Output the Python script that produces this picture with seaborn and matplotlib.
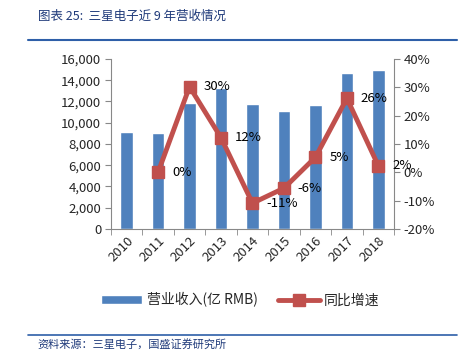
import numpy as np
import pandas as pd
import seaborn as sns
import matplotlib.pyplot as plt
from matplotlib.ticker import FuncFormatter, FixedLocator

# data
years = ['2010', '2011', '2012', '2013', '2014', '2015', '2016', '2017', '2018']
revenue = [9100, 9050, 11830, 13240, 11800, 11100, 11640, 14680, 14960]
growth = [np.nan, 0.0, 30.2, 12.2, -10.9, -5.6, 5.3, 26.1, 2.3]
growth_labels = ['', '0%', '30%', '12%', '-11%', '-6%', '5%', '26%', '2%']

bar_color = '#4F81BD'
line_color = '#C0504D'

sns.set_style('white')
plt.rcParams['font.family'] = ['Noto Sans CJK SC', 'DejaVu Sans']

df = pd.DataFrame({'year': years, 'revenue': revenue, 'growth': growth})

fig = plt.figure(figsize=(4.62, 3.55), dpi=100)
ax = fig.add_axes([0.240, 0.355, 0.613, 0.479])

sns.barplot(data=df, x='year', y='revenue', color=bar_color, width=0.4,
            saturation=1, ax=ax, label='营业收入(亿 RMB)')
if ax.get_legend() is not None:
    ax.get_legend().remove()
ax.set_xlim(-0.5, len(years) - 0.5)
ax.set_ylim(0, 16000)
ax.set_yticks(np.arange(0, 16001, 2000))
ax.yaxis.set_major_formatter(FuncFormatter(lambda v, p: f'{int(v):,}'))
ax.set_xlabel('')
ax.set_ylabel('')

ax2 = ax.twinx()
x_pos = np.arange(len(years))
ax2.plot(x_pos, growth, color=line_color, lw=3.5, marker='s', ms=8.5,
         label='同比增速')
ax2.set_ylim(-20, 40)
ax2.set_yticks(np.arange(-20, 41, 10))
ax2.yaxis.set_major_formatter(FuncFormatter(lambda v, p: f'{int(v)}%'))

for xi, g, lab in zip(x_pos, growth, growth_labels):
    if lab:
        ax2.annotate(lab, (xi, g), xytext=(10, 0), textcoords='offset points',
                     ha='left', va='center', fontsize=9.5, color='black')

# Excel-like axes styling
for a in (ax, ax2):
    a.spines['top'].set_visible(False)
    for s in ('left', 'right', 'bottom'):
        a.spines[s].set_color('#888888')
        a.spines[s].set_linewidth(0.8)
ax.spines['right'].set_visible(False)
ax2.spines['left'].set_visible(False)
ax2.spines['bottom'].set_visible(False)

ax.tick_params(axis='y', which='major', direction='out', length=4, color='#888888',
               labelsize=9.5, pad=3, left=True)
ax2.tick_params(axis='y', which='major', direction='out', length=4, color='#888888',
                labelsize=9.5, pad=3, right=True)
ax.tick_params(axis='x', which='major', length=0, labelsize=9.5, pad=4)
ax.xaxis.set_minor_locator(FixedLocator(np.arange(-0.5, len(years), 1.0)))
ax.tick_params(axis='x', which='minor', direction='out', length=4, color='#888888', bottom=True)
plt.setp(ax.get_xticklabels(), rotation=45, ha='right', rotation_mode='anchor')

# legend
h1, l1 = ax.get_legend_handles_labels()
h2, l2 = ax2.get_legend_handles_labels()
fig.legend(h1 + h2, l1 + l2, loc='center', bbox_to_anchor=(0.52, 0.155), ncol=2,
           frameon=False, fontsize=10, handlelength=3.0, columnspacing=1.5,
           handletextpad=0.3)

# header and source
fig.text(0.082, 0.955, '图表 25:  三星电子近 9 年营收情况', fontsize=9, style='italic',
         color='#1F3A7A', va='center')
fig.add_artist(plt.Line2D([0.06, 0.99], [0.887, 0.887], color='#2E5FA8', lw=1.5))
fig.add_artist(plt.Line2D([0.06, 0.99], [0.057, 0.057], color='#2E5FA8', lw=1.2))
fig.text(0.082, 0.03, '资料来源：三星电子，国盛证券研究所', fontsize=8, style='italic',
         color='#1F3A7A', va='center')

fig.savefig('out.png', dpi=100)
